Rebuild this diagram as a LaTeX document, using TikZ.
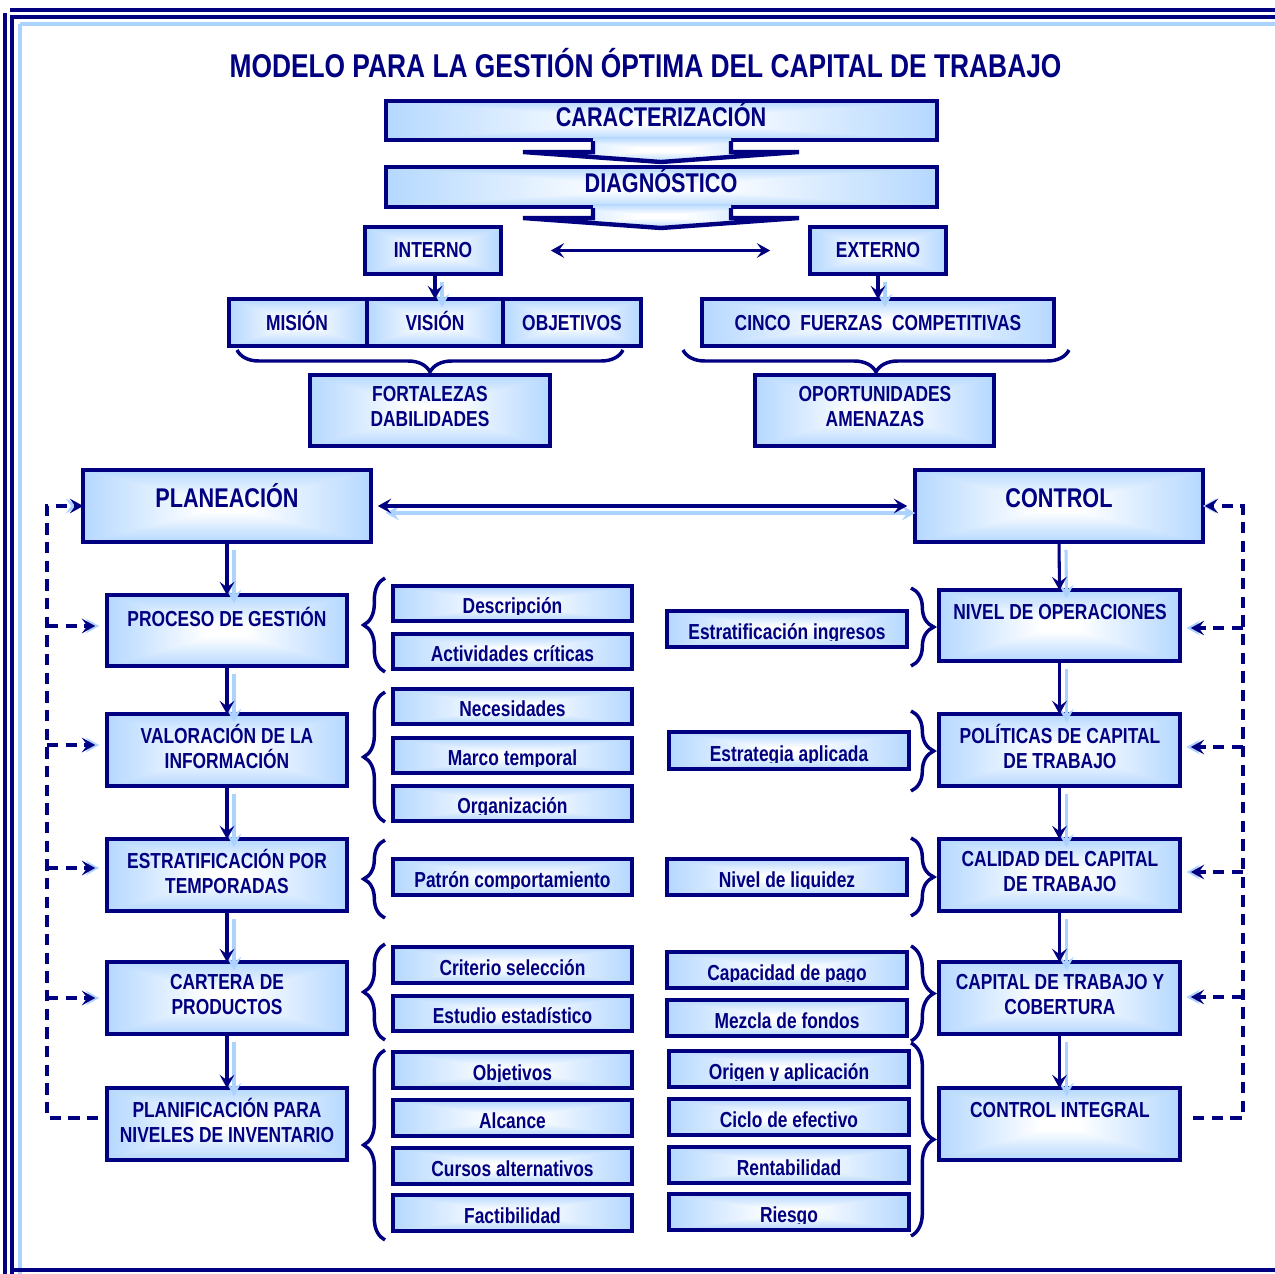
\documentclass[tikz,border=0pt]{standalone}
\usepackage{fontspec}
\setmainfont{Liberation Sans}[FakeStretch=0.8]
\usetikzlibrary{arrows.meta,decorations.pathreplacing}
\definecolor{navy}{RGB}{0,0,128}
\definecolor{lsh}{RGB}{172,210,255}
\pgfdeclarefunctionalshading{rshade}{\pgfpoint{-50bp}{-50bp}}{\pgfpoint{50bp}{50bp}}{}{abs exch abs 2 copy lt {exch} if pop 50 div 0.08 sub 0.52 div dup 0 lt {pop 0} if dup 1 gt {pop 1} if dup 0.36 mul 1 exch sub exch 0.19 mul 1 exch sub 1}
\newcommand\fT{\fontsize{24.7}{28}\selectfont\bfseries}
\newcommand\fB{\fontsize{20.3}{23}\selectfont\bfseries}
\newcommand\fM{\fontsize{16.3}{18.75}\selectfont\bfseries}
\newcommand\fS{\fontsize{16.3}{18}\selectfont\bfseries}
\newcommand\stM{\rule[-3.5pt]{0pt}{14.8pt}}
\tikzset{
 box/.style={rectangle, draw=navy, line width=3.3pt, shading=rshade, inner sep=0pt, outer sep=0pt},
 lblM/.style={text=navy, font=\fM, align=center, inner sep=0pt},
 lblB/.style={text=navy, font=\fB, inner sep=0pt},
 slbl/.style={text=navy, font=\fS, inner sep=0pt},
 tipS/.tip={Stealth[length=10pt,width=11pt,inset=4pt]},
 arr/.style={navy, line width=2.3pt, -tipS},
 sarr/.style={lsh, line width=2.3pt, -tipS},
 dsh/.style={navy, line width=2.5pt, dash pattern=on 8.5pt off 5.5pt},
 sdsh/.style={lsh, line width=2.5pt, dash pattern=on 8.5pt off 5.5pt},
 brc/.style={navy, line width=2.6pt, decorate, decoration={brace, amplitude=#1}},
 frm/.style={navy, line width=2.4pt},
}
\newcommand\BX[5]{\node[box, minimum width={(#4-#2-4.4)*0.75pt}, minimum height={(#5-#3-4.4)*0.75pt}] (#1) at ({(#2+#4)/2},{(#3+#5)/2}) {};}
\newcommand\SB[6]{%
 \node[box, minimum width={(#4-#2-4.4)*0.75pt}, minimum height={(#5-#3-4.4)*0.75pt}] (#1) at ({(#2+#4)/2},{(#3+#5)/2}) {};
 \begin{scope}
 \clip ({#2+4},{#3+4}) rectangle ({#4-4},{#5-8.7});
 \node[slbl, anchor=base] (#1-t) at ({(#2+#4)/2},{#5-9.5}) {#6};
 \end{scope}}
\newcommand\VA[2]{\draw[sarr] ([shift={(7,8)}]#1) -- ([shift={(7,8)}]#2); \draw[arr] (#1) -- (#2);}
\begin{document}
\begin{tikzpicture}[x=0.75pt,y=-0.75pt]
\useasboundingbox (0,0) rectangle (1275,1274);
% frame
\draw[lsh, line width=2.4pt] (20,24) -- (1275,24);
\draw[lsh, line width=2.4pt] (20,24) -- (20,1274);
\draw[frm] (10,10) -- (1275,10);
\draw[frm] (11,17) -- (1275,17);
\draw[frm] (5,13) -- (5,1274);
\draw[frm] (12,15) -- (12,1274);
\draw[frm] (10,1270) -- (1275,1270);
% title
\node[text=navy, font=\fT, anchor=base, inner sep=0pt] (title) at (645.5,77) {MODELO PARA LA GESTIÓN ÓPTIMA DEL CAPITAL DE TRABAJO};
% top boxes
\BX{car}{384}{99}{939}{142}
\BX{diag}{384}{165}{939}{209}
\BX{int}{363}{225}{503}{276}
\BX{ext}{808}{225}{948}{276}
\BX{mis}{227}{297}{369}{348}
\BX{vis}{365}{297}{505}{348}
\BX{obj}{501}{297}{643}{348}
\BX{fort}{308}{373}{552}{448}
\BX{cinco}{700}{297}{1056}{348}
\BX{opor}{753}{373}{996}{448}
\BX{plan}{81}{468}{373}{544}
\BX{ctrl}{913}{468}{1205}{544}
\BX{pg}{105}{593}{349}{668}
\BX{val}{105}{712}{349}{788}
\BX{estr}{105}{837}{349}{913}
\BX{cart}{105}{960}{349}{1036}
\BX{planif}{105}{1086}{349}{1162}
\BX{niv}{937}{588}{1182}{663}
\BX{pol}{937}{712}{1182}{788}
\BX{cal}{937}{837}{1182}{913}
\BX{capt}{937}{960}{1182}{1036}
\BX{ci}{937}{1086}{1182}{1162}
% chevrons
\fill[shading=rshade] (593,137) -- (593,152) -- (523,152) -- (661,162) -- (799,152) -- (731,152) -- (731,137) -- cycle;
\draw[navy, line width=3.3pt, line join=miter] (593,141) -- (593,152) -- (523,152) -- (661,162) -- (799,152) -- (731,152) -- (731,141);
\fill[shading=rshade] (593,204) -- (593,218) -- (523,218) -- (661,228) -- (799,218) -- (731,218) -- (731,204) -- cycle;
\draw[navy, line width=3.3pt, line join=miter] (593,208) -- (593,218) -- (523,218) -- (661,228) -- (799,218) -- (731,218) -- (731,208);
% labels
\node[lblB, anchor=base] (car-t) at (661,126) {CARACTERIZACIÓN};
\node[lblB, anchor=base] (diag-t) at (661,192) {DIAGNÓSTICO};
\node[lblM, anchor=base] (int-t) at (433,257) {INTERNO};
\node[lblM, anchor=base] (ext-t) at (878,257) {EXTERNO};
\node[lblM, anchor=base] (mis-t) at (297,330) {MISIÓN};
\node[lblM, anchor=base] (vis-t) at (435,330) {VISIÓN};
\node[lblM, anchor=base] (obj-t) at (572,330) {OBJETIVOS};
\node[lblM, anchor=base] (cinco-t) at (878,330) {CINCO\ \ FUERZAS\ \ COMPETITIVAS};
\node[lblM] (fort-t) at (430,409) {\stM FORTALEZAS\\\stM DABILIDADES};
\node[lblM] (opor-t) at (875,409) {\stM OPORTUNIDADES\\\stM AMENAZAS};
\node[lblB, anchor=base] (plan-t) at (227,507) {PLANEACIÓN};
\node[lblB, anchor=base] (ctrl-t) at (1059,507) {CONTROL};
\node[lblM, anchor=base] (pg-t) at (227,626) {PROCESO DE GESTIÓN};
\node[lblM] (val-t) at (227,749) {\stM VALORACIÓN DE LA\\\stM INFORMACIÓN};
\node[lblM] (estr-t) at (227,874) {\stM ESTRATIFICACIÓN POR\\\stM TEMPORADAS};
\node[lblM] (cart-t) at (227,997) {\stM CARTERA DE\\\stM PRODUCTOS};
\node[lblM] (planif-t) at (227,1123) {\stM PLANIFICACIÓN PARA\\\stM NIVELES DE INVENTARIO};
\node[lblM, anchor=base] (niv-t) at (1060,619) {NIVEL DE OPERACIONES};
\node[lblM] (pol-t) at (1060,749) {\stM POLÍTICAS DE CAPITAL\\\stM DE TRABAJO};
\node[lblM] (cal-t) at (1060,874) {\stM CALIDAD DEL CAPITAL\\\stM DE TRABAJO};
\node[lblM] (capt-t) at (1060,997) {\stM CAPITAL DE TRABAJO Y\\\stM COBERTURA};
\node[lblM, anchor=base] (ci-t) at (1060,1117) {CONTROL INTEGRAL};
% sub boxes
\SB{desc}{391}{584}{634}{623}{Descripción}
\SB{act}{391}{632}{634}{671}{Actividades críticas}
\SB{nec}{391}{687}{634}{726}{Necesidades}
\SB{mar}{391}{736}{634}{775}{Marco temporal}
\SB{org}{391}{784}{634}{823}{Organización}
\SB{pat}{391}{857}{634}{897}{Patrón comportamiento}
\SB{cri}{391}{945}{634}{985}{Criterio selección}
\SB{estu}{391}{994}{634}{1033}{Estudio estadístico}
\SB{objv}{391}{1050}{634}{1090}{Objetivos}
\SB{alc}{391}{1098}{634}{1138}{Alcance}
\SB{cur}{391}{1146}{634}{1186}{Cursos alternativos}
\SB{fac}{391}{1193}{634}{1233}{Factibilidad}
\SB{ing}{665}{609}{909}{649}{Estratificación ingresos}
\SB{esa}{667}{730}{911}{771}{Estrategia aplicada}
\SB{liq}{665}{857}{909}{897}{Nivel de liquidez}
\SB{cap}{665}{950}{909}{990}{Capacidad de pago}
\SB{mez}{665}{998}{909}{1038}{Mezcla de fondos}
\SB{ori}{667}{1049}{911}{1089}{Origen y aplicación}
\SB{cic}{667}{1097}{911}{1137}{Ciclo de efectivo}
\SB{ren}{667}{1145}{911}{1185}{Rentabilidad}
\SB{rie}{667}{1192}{911}{1232}{Riesgo}
% braces
\draw[brc=16.5pt] (623,350) -- (237,350);
\draw[brc=16.5pt] (1069,350) -- (683,350);
\draw[brc=16pt] (385,672) -- (385,578);
\draw[brc=16pt] (385,822) -- (385,692);
\draw[brc=16pt] (385,918) -- (385,840);
\draw[brc=16pt] (385,1040) -- (385,944);
\draw[brc=16pt] (385,1240) -- (385,1050);
\draw[brc=17pt] (911,588) -- (911,666);
\draw[brc=17pt] (911,711) -- (911,791);
\draw[brc=17pt] (911,838) -- (911,916);
\draw[brc=17pt] (911,946) -- (911,1041);
\draw[brc=17pt] (911,1043) -- (911,1236);
% arrows
\coordinate (iv) at (vis.north |- int.south);
\VA{iv}{vis.north}
\VA{ext.south}{cinco.north}
\draw[navy, line width=2.3pt, tipS-tipS, shorten <=37.5pt, shorten >=30pt] (int.east) -- (ext.west);
\draw[lsh, line width=2.3pt, tipS-tipS, shorten <=5.25pt, shorten >=6pt] ([shift={(8,7)}]plan.east) -- ([shift={(8,7)}]ctrl.west);
\draw[navy, line width=2.3pt, tipS-tipS, shorten <=5.25pt, shorten >=6pt] (plan.east) -- (ctrl.west);
\VA{plan.south}{pg.north}
\VA{pg.south}{val.north}
\VA{val.south}{estr.north}
\VA{estr.south}{cart.north}
\VA{cart.south}{planif.north}
\VA{ctrl.south}{niv.north}
\VA{niv.south}{pol.north}
\VA{pol.south}{cal.north}
\VA{cal.south}{capt.north}
\VA{capt.south}{ci.north}
% left feedback loop
\coordinate (L1) at (47,506);
\coordinate (L2) at (47,1118);
\coordinate (La) at (47,626);
\coordinate (Lb) at (47,745);
\coordinate (Lc) at (47,868);
\coordinate (Ld) at (47,998);
\coordinate (Le) at (planif.west |- L2);
\coordinate (Lp) at (plan.west |- L1);
\coordinate (Pa) at (pg.west |- La);
\coordinate (Pb) at (val.west |- Lb);
\coordinate (Pc) at (estr.west |- Lc);
\coordinate (Pd) at (cart.west |- Ld);
\begin{scope}[shift={(8,7)}]
\draw[sdsh, -tipS, shorten <=6.75pt, shorten >=3pt] (Le) -- (L2) -- (L1) -- (Lp);
\draw[sdsh, -tipS, shorten >=6pt] (La) -- (Pa);
\draw[sdsh, -tipS, shorten >=6pt] (Lb) -- (Pb);
\draw[sdsh, -tipS, shorten >=6pt] (Lc) -- (Pc);
\draw[sdsh, -tipS, shorten >=6pt] (Ld) -- (Pd);
\end{scope}
\draw[dsh, -tipS, shorten <=6.75pt] (Le) -- (L2) -- (L1) -- (Lp);
\draw[dsh, -tipS, shorten >=9pt] (La) -- (Pa);
\draw[dsh, -tipS, shorten >=9pt] (Lb) -- (Pb);
\draw[dsh, -tipS, shorten >=9pt] (Lc) -- (Pc);
\draw[dsh, -tipS, shorten >=9pt] (Ld) -- (Pd);
% right feedback loop
\coordinate (R1) at (1243,506);
\coordinate (R2) at (1243,1118);
\coordinate (Ra) at (1243,628);
\coordinate (Rb) at (1243,747);
\coordinate (Rc) at (1243,872);
\coordinate (Rd) at (1243,997);
\coordinate (Re) at (ci.east |- R2);
\coordinate (Rp) at (ctrl.east |- R1);
\coordinate (Qa) at (niv.east |- Ra);
\coordinate (Qb) at (pol.east |- Rb);
\coordinate (Qc) at (cal.east |- Rc);
\coordinate (Qd) at (capt.east |- Rd);
\begin{scope}[shift={(6,7)}]
\draw[sdsh, -tipS, shorten <=10pt] (Re) -- (R2) -- (R1) -- (Rp);
\draw[sdsh, -tipS, shorten >=5pt] (Ra) -- (Qa);
\draw[sdsh, -tipS, shorten >=5pt] (Rb) -- (Qb);
\draw[sdsh, -tipS, shorten >=5pt] (Rc) -- (Qc);
\draw[sdsh, -tipS, shorten >=5pt] (Rd) -- (Qd);
\end{scope}
\draw[dsh, -tipS, shorten <=10pt, shorten >=1.5pt] (Re) -- (R2) -- (R1) -- (Rp);
\draw[dsh, -tipS, shorten >=8.25pt] (Ra) -- (Qa);
\draw[dsh, -tipS, shorten >=8.25pt] (Rb) -- (Qb);
\draw[dsh, -tipS, shorten >=8.25pt] (Rc) -- (Qc);
\draw[dsh, -tipS, shorten >=8.25pt] (Rd) -- (Qd);
\end{tikzpicture}
\end{document}
